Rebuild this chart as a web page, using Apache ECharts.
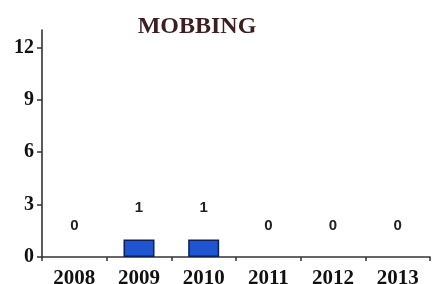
<!DOCTYPE html>
<html><head><meta charset="utf-8">
<script src="https://cdn.jsdelivr.net/npm/echarts@6/dist/echarts.min.js"></script>
<style>html,body{margin:0;padding:0;background:#fff}#c{width:440px;height:284px}</style>
</head><body><div id="c"></div>
<script>
const categories = ['2008','2009','2010','2011','2012','2013'];
const values = [0, 1, 1, 0, 0, 0];
const yTicks = [0, 3, 6, 9, 12];
const titleText = 'MOBBING';

const chart = echarts.init(document.getElementById('c'), null, {renderer:'canvas'});
chart.setOption({
  backgroundColor:'#fff',
  animation:false,
  title:{text:titleText, left:192, top:10, textAlign:'center',
    textStyle:{fontFamily:'Liberation Serif', fontWeight:'bold', fontSize:24, color:'#3b1f22'}},
  grid:{left:42, right:10, top:30, bottom:27, containLabel:false, outerBoundsMode:'none'},
  xAxis:{type:'category', data:categories, boundaryGap:true,
    axisLine:{lineStyle:{color:'#333', width:1.6}},
    axisTick:{show:true, length:4, lineStyle:{color:'#333', width:1.5}},
    axisLabel:{margin:11, fontFamily:'Liberation Serif', fontWeight:'bold', fontSize:21, color:'#111'},
    splitLine:{show:false}},
  yAxis:{type:'value', min:0, max:13, interval:3,
    axisLine:{show:true, lineStyle:{color:'#333', width:1.6}},
    axisTick:{show:true, length:5, customValues:yTicks, lineStyle:{color:'#333', width:1.5}},
    axisLabel:{margin:8, customValues:yTicks, fontFamily:'Liberation Serif', fontWeight:'bold', fontSize:20, color:'#111'},
    splitLine:{show:false}},
  series:[{type:'bar', barWidth:31,
    data: values.map(v => v === 0 ? {value:v, itemStyle:{borderWidth:0, opacity:0}} : v),
    itemStyle:{color:'#1f55d0', borderColor:'#0d1f5a', borderWidth:1.5},
    label:{show:true, position:'top', distance:24, fontFamily:'Liberation Sans', fontWeight:'bold', fontSize:15, color:'#222', opacity:1}}]
});
</script></body></html>
